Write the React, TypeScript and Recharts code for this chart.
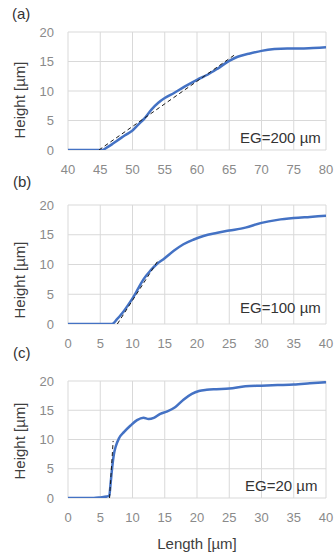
import React from 'react';
import { LineChart, Line, XAxis, YAxis, CartesianGrid } from 'recharts';

const FONT = '"Liberation Sans", Arial, sans-serif';

// (a) EG = 200 um
const aX = [40, 42, 44, 45, 45.3, 46, 46.8, 47.5, 48.3, 49, 50, 50.9, 51.9, 52.9, 54, 55, 56.5, 58, 60, 61.7, 63.2, 65, 66.3, 68, 70, 72, 74, 76, 78, 80];
const aY = [0, 0, 0, 0, 0, 0.4, 0.95, 1.5, 2.1, 2.6, 3.3, 4.3, 5.4, 6.8, 8.0, 8.8, 9.7, 10.7, 11.9, 12.8, 13.8, 15.1, 15.8, 16.3, 16.8, 17.1, 17.2, 17.2, 17.3, 17.4];
const aFitX = [44.8, 65.8];
const aFitY = [0, 16.1];
const aTicks = [40, 45, 50, 55, 60, 65, 70, 75, 80];

// (b) EG = 100 um
const bX = [0, 2, 4, 6, 6.8, 7.6, 8.4, 9.2, 10, 10.7, 11.7, 12.8, 13.7, 14.8, 16.4, 17.9, 19.5, 21, 23, 25, 27.5, 30, 32.5, 35, 37.5, 40];
const bY = [0, 0, 0, 0, 0, 0.8, 1.8, 3.0, 4.3, 5.6, 7.5, 9.0, 10.0, 10.9, 12.3, 13.4, 14.2, 14.8, 15.3, 15.7, 16.2, 17.0, 17.5, 17.8, 18.0, 18.2];
const bFitX = [7.65, 14.1];
const bFitY = [0, 10.9];

// (c) EG = 20 um
const cX = [0, 2, 4, 5, 6, 6.4, 6.6, 6.85, 7.1, 7.4, 7.9, 8.7, 9.7, 10.7, 11.7, 12.5, 13.3, 14.3, 15.4, 16.6, 17.9, 19.2, 20.3, 21.5, 23, 25, 27.5, 30, 32.5, 35, 37.5, 40];
const cY = [0, 0, 0, 0.1, 0.25, 0.4, 2.4, 5.2, 7.4, 8.8, 10.2, 11.3, 12.4, 13.3, 13.7, 13.5, 13.7, 14.4, 14.8, 15.5, 16.8, 17.8, 18.3, 18.5, 18.6, 18.7, 19.1, 19.2, 19.3, 19.4, 19.6, 19.8];
const cFitX = [6.44, 7.0];
const cFitY = [0, 9.75];

const lenTicks = [0, 5, 10, 15, 20, 25, 30, 35, 40];
const yTicks = [0, 5, 10, 15, 20];

const toPoints = (xs: number[], ys: number[]) => xs.map((x, i) => ({ x, y: ys[i] }));

const tickStyle = { fill: '#8a8a8a', fontSize: 13, fontFamily: FONT };

function YTitle({ cy }: { cy: number }) {
  return (
    <text x={19} y={cy} transform={`rotate(-90 19 ${cy})`} textAnchor="middle" dominantBaseline="central"
      fill="#404040" fontSize={15} fontFamily={FONT}>Height [µm]</text>
  );
}

function XTitle({ cy }: { cy: number }) {
  return (
    <text x={197} y={cy} textAnchor="middle" dominantBaseline="central" fill="#404040" fontSize={15} fontFamily={FONT}>
      Length [µm]
    </text>
  );
}

interface PanelProps {
  top: number;
  height: number;
  marginTop: number;
  xAxisHeight: number;
  domain: [number, number];
  xTicks: number[];
  curve: { x: number; y: number }[];
  fit: { x: number; y: number }[];
  titleY: number;
  lengthY?: number;
}

function Panel(p: PanelProps) {
  return (
    <div style={{ position: 'absolute', left: 0, top: p.top }}>
      <LineChart width={334} height={p.height} margin={{ top: p.marginTop, right: 8, left: 0, bottom: 0 }}>
        <CartesianGrid stroke="#d9d9d9" strokeWidth={1} />
        <XAxis type="number" dataKey="x" domain={p.domain} ticks={p.xTicks} allowDataOverflow
          height={p.xAxisHeight} axisLine={false} tickLine={false} tickMargin={9} tick={tickStyle}
          label={p.lengthY ? <XTitle cy={p.lengthY} /> : undefined} />
        <YAxis type="number" dataKey="y" domain={[0, 20]} ticks={yTicks} allowDataOverflow width={68}
          axisLine={false} tickLine={false} tickMargin={8} tick={tickStyle}
          label={<YTitle cy={p.titleY} />} />
        <Line data={p.curve} dataKey="y" type="monotone" stroke="#4472c4" strokeWidth={2.5}
          dot={false} isAnimationActive={false} />
        <Line data={p.fit} dataKey="y" type="linear" stroke="#1a1a1a" strokeWidth={1}
          strokeDasharray="4 3" dot={false} isAnimationActive={false} />
      </LineChart>
    </div>
  );
}

const tagStyle: React.CSSProperties = {
  position: 'absolute', fontFamily: FONT, fontSize: 15, lineHeight: '18px', color: '#333', whiteSpace: 'nowrap',
};

export default function App() {
  return (
    <div style={{ position: 'absolute', left: 0, top: 0, width: 334, height: 559, background: '#fff' }}>
      <Panel top={0} height={178} marginTop={32} xAxisHeight={28} domain={[40, 80]} xTicks={aTicks}
        curve={toPoints(aX, aY)} fit={toPoints(aFitX, aFitY)} titleY={100} />
      <Panel top={178} height={174} marginTop={27} xAxisHeight={28} domain={[0, 40]} xTicks={lenTicks}
        curve={toPoints(bX, bY)} fit={toPoints(bFitX, bFitY)} titleY={102} />
      <Panel top={352} height={207} marginTop={29} xAxisHeight={61} domain={[0, 40]} xTicks={lenTicks}
        curve={toPoints(cX, cY)} fit={toPoints(cFitX, cFitY)} titleY={89} lengthY={191} />

      <div style={{ ...tagStyle, left: 12, top: 5 }}>(a)</div>
      <div style={{ ...tagStyle, left: 13, top: 173 }}>(b)</div>
      <div style={{ ...tagStyle, left: 13, top: 344 }}>(c)</div>

      <div style={{ ...tagStyle, left: 240, top: 129 }}>EG=200 µm</div>
      <div style={{ ...tagStyle, left: 240, top: 299 }}>EG=100 µm</div>
      <div style={{ ...tagStyle, left: 245, top: 477 }}>EG=20 µm</div>
    </div>
  );
}
